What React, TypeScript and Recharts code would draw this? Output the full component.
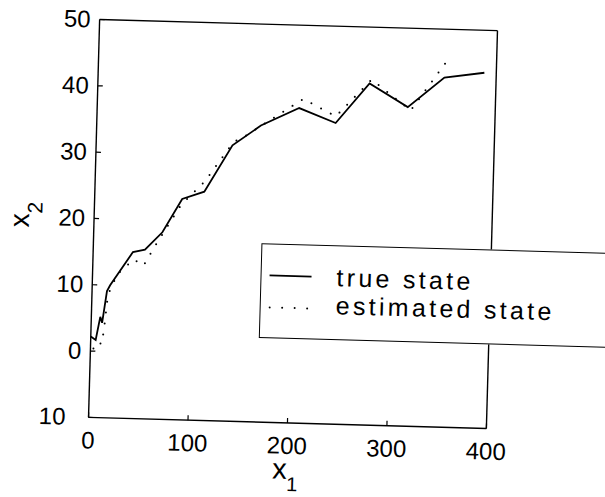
import React from "react";
import { LineChart, Line, XAxis, YAxis, Legend } from "recharts";

// x1 / x2 values
const trueX = [0, 5, 9, 11, 15, 18, 40, 52, 69, 88, 110, 137, 165, 203, 240, 273, 312, 348, 388];
const trueY = [2.2, 1.7, 5.2, 4.3, 9.1, 10.0, 15.1, 15.5, 18.2, 23.3, 24.5, 31.6, 34.7, 37.5, 35.4, 41.5, 38.1, 42.7, 43.6];

const estX = [3, 7, 11, 13, 16, 25, 41, 51, 62, 87, 110, 138, 148, 207, 240, 275, 315, 351];
const estY = [0.4, 1.4, 1.1, 3.2, 8.5, 11.7, 14.0, 13.1, 16.1, 22.4, 26.0, 32.1, 32.9, 38.9, 36.4, 42.1, 37.6, 45.4];

const xTicks = [0, 100, 200, 300, 400];
const yTicks = [-10, 0, 10, 20, 30, 40, 50];

const trueData = trueX.map((x, i) => ({ x, y: trueY[i] }));
const estData = estX.map((x, i) => ({ x, y: estY[i] }));

const FONT = "'Liberation Sans', Arial, Helvetica, sans-serif";

// bottom ticks point inward, labels sit below
const BottomTick = ({ x, y, payload }: any) => (
  <g>
    <line x1={x} y1={y} x2={x} y2={y - 5} stroke="#000" strokeWidth={1.2} />
    <text x={x} y={y + 31} textAnchor="middle" fontSize={24} fontFamily={FONT} fill="#000">
      {payload.value}
    </text>
  </g>
);

// the minus sign of -10 is lost in the print, only "10" shows (shifted where the minus was)
const LeftTick = ({ x, y, payload }: any) => {
  const v = payload.value;
  return (
    <g>
      <line x1={x} y1={y} x2={x + 5} y2={y} stroke="#000" strokeWidth={1.2} />
      <text
        x={x - 9 - (v < 0 ? 14 : 0)}
        y={y + 8}
        textAnchor="end"
        fontSize={24}
        fontFamily={FONT}
        fill="#000"
      >
        {Math.abs(v)}
      </text>
    </g>
  );
};

const XLabel = ({ viewBox }: any) => {
  const cx = viewBox.x + viewBox.width / 2;
  return (
    <text x={cx - 14} y={viewBox.y + 56} fontSize={29} fontFamily={FONT} fill="#000">
      x
      <tspan fontSize={20} dy={12}>1</tspan>
    </text>
  );
};

const YLabel = ({ viewBox }: any) => {
  const cy = viewBox.y + viewBox.height / 2;
  const lx = 29;
  return (
    <text
      x={lx}
      y={cy - 2}
      transform={`rotate(-90, ${lx}, ${cy - 2})`}
      textAnchor="middle"
      fontSize={28}
      fontFamily={FONT}
      fill="#000"
    >
      x
      <tspan fontSize={21} dy={13}>2</tspan>
    </text>
  );
};

const LegendBox = () => (
  <div
    style={{
      width: 400,
      height: 95,
      boxSizing: "border-box",
      border: "1.5px solid #000",
      background: "#fff",
      fontFamily: FONT,
      fontSize: 25,
      letterSpacing: 3.3,
      color: "#000",
      position: "relative",
    }}
  >
    <svg width={60} height={95} style={{ position: "absolute", left: 0, top: 0 }}>
      <line x1={8} y1={31} x2={50} y2={31} stroke="#000" strokeWidth={1.8} />
      <line
        x1={9}
        y1={63}
        x2={48}
        y2={63}
        stroke="#000"
        strokeWidth={2}
        strokeDasharray="0 12.5"
        strokeLinecap="round"
      />
    </svg>
    <div style={{ position: "absolute", left: 75, top: 17, lineHeight: "28px" }}>
      true state
    </div>
    <div style={{ position: "absolute", left: 75, top: 45, lineHeight: "28px" }}>
      estimated state
    </div>
  </div>
);

export default function App() {
  return (
    <div
      style={{
        position: "fixed",
        left: 0,
        top: 0,
        width: 605,
        height: 497,
        overflow: "hidden",
        background: "#fff",
      }}
    >
      {/* the scanned figure is slightly turned */}
      <div style={{ transform: "rotate(1.6deg)", transformOrigin: "293px 224px" }}>
        <LineChart
          width={605}
          height={497}
          margin={{ top: 25, right: 113, bottom: 0, left: 0 }}
        >
          <XAxis
            xAxisId="b"
            dataKey="x"
            type="number"
            domain={[0, 400]}
            ticks={xTicks}
            orientation="bottom"
            height={74}
            tickSize={0}
            tickMargin={0}
            tickLine={false}
            tick={<BottomTick />}
            axisLine={{ stroke: "#000", strokeWidth: 1.4 }}
            label={<XLabel />}
          />
          <XAxis
            xAxisId="t"
            dataKey="x"
            type="number"
            domain={[0, 400]}
            allowDataOverflow
            ticks={xTicks}
            orientation="top"
            mirror
            height={1}
            tick={false}
            tickSize={5}
            tickLine={{ stroke: "#000", strokeWidth: 1.2 }}
            axisLine={{ stroke: "#000", strokeWidth: 1.4 }}
          />
          <YAxis
            yAxisId="l"
            dataKey="y"
            type="number"
            domain={[-10, 50]}
            ticks={yTicks}
            orientation="left"
            width={94}
            tickSize={0}
            tickMargin={0}
            tickLine={false}
            tick={<LeftTick />}
            axisLine={{ stroke: "#000", strokeWidth: 1.4 }}
            label={<YLabel />}
          />
          <YAxis
            yAxisId="r"
            dataKey="y"
            type="number"
            domain={[-10, 50]}
            allowDataOverflow
            ticks={yTicks}
            orientation="right"
            mirror
            width={1}
            tick={false}
            tickSize={5}
            tickLine={{ stroke: "#000", strokeWidth: 1.2 }}
            axisLine={{ stroke: "#000", strokeWidth: 1.4 }}
          />
          <Line
            xAxisId="b"
            yAxisId="l"
            data={trueData}
            dataKey="y"
            name="true state"
            stroke="#000"
            strokeWidth={1.8}
            dot={false}
            isAnimationActive={false}
          />
          <Line
            xAxisId="b"
            yAxisId="l"
            data={estData}
            dataKey="y"
            name="estimated state"
            stroke="#000"
            strokeWidth={2}
            strokeDasharray="0 11"
            strokeLinecap="round"
            dot={false}
            isAnimationActive={false}
          />
          <Legend
            layout="horizontal"
            verticalAlign="middle"
            align="center"
            content={<LegendBox />}
            wrapperStyle={{ left: 262, top: 244, width: 400 }}
          />
        </LineChart>
      </div>
    </div>
  );
}
